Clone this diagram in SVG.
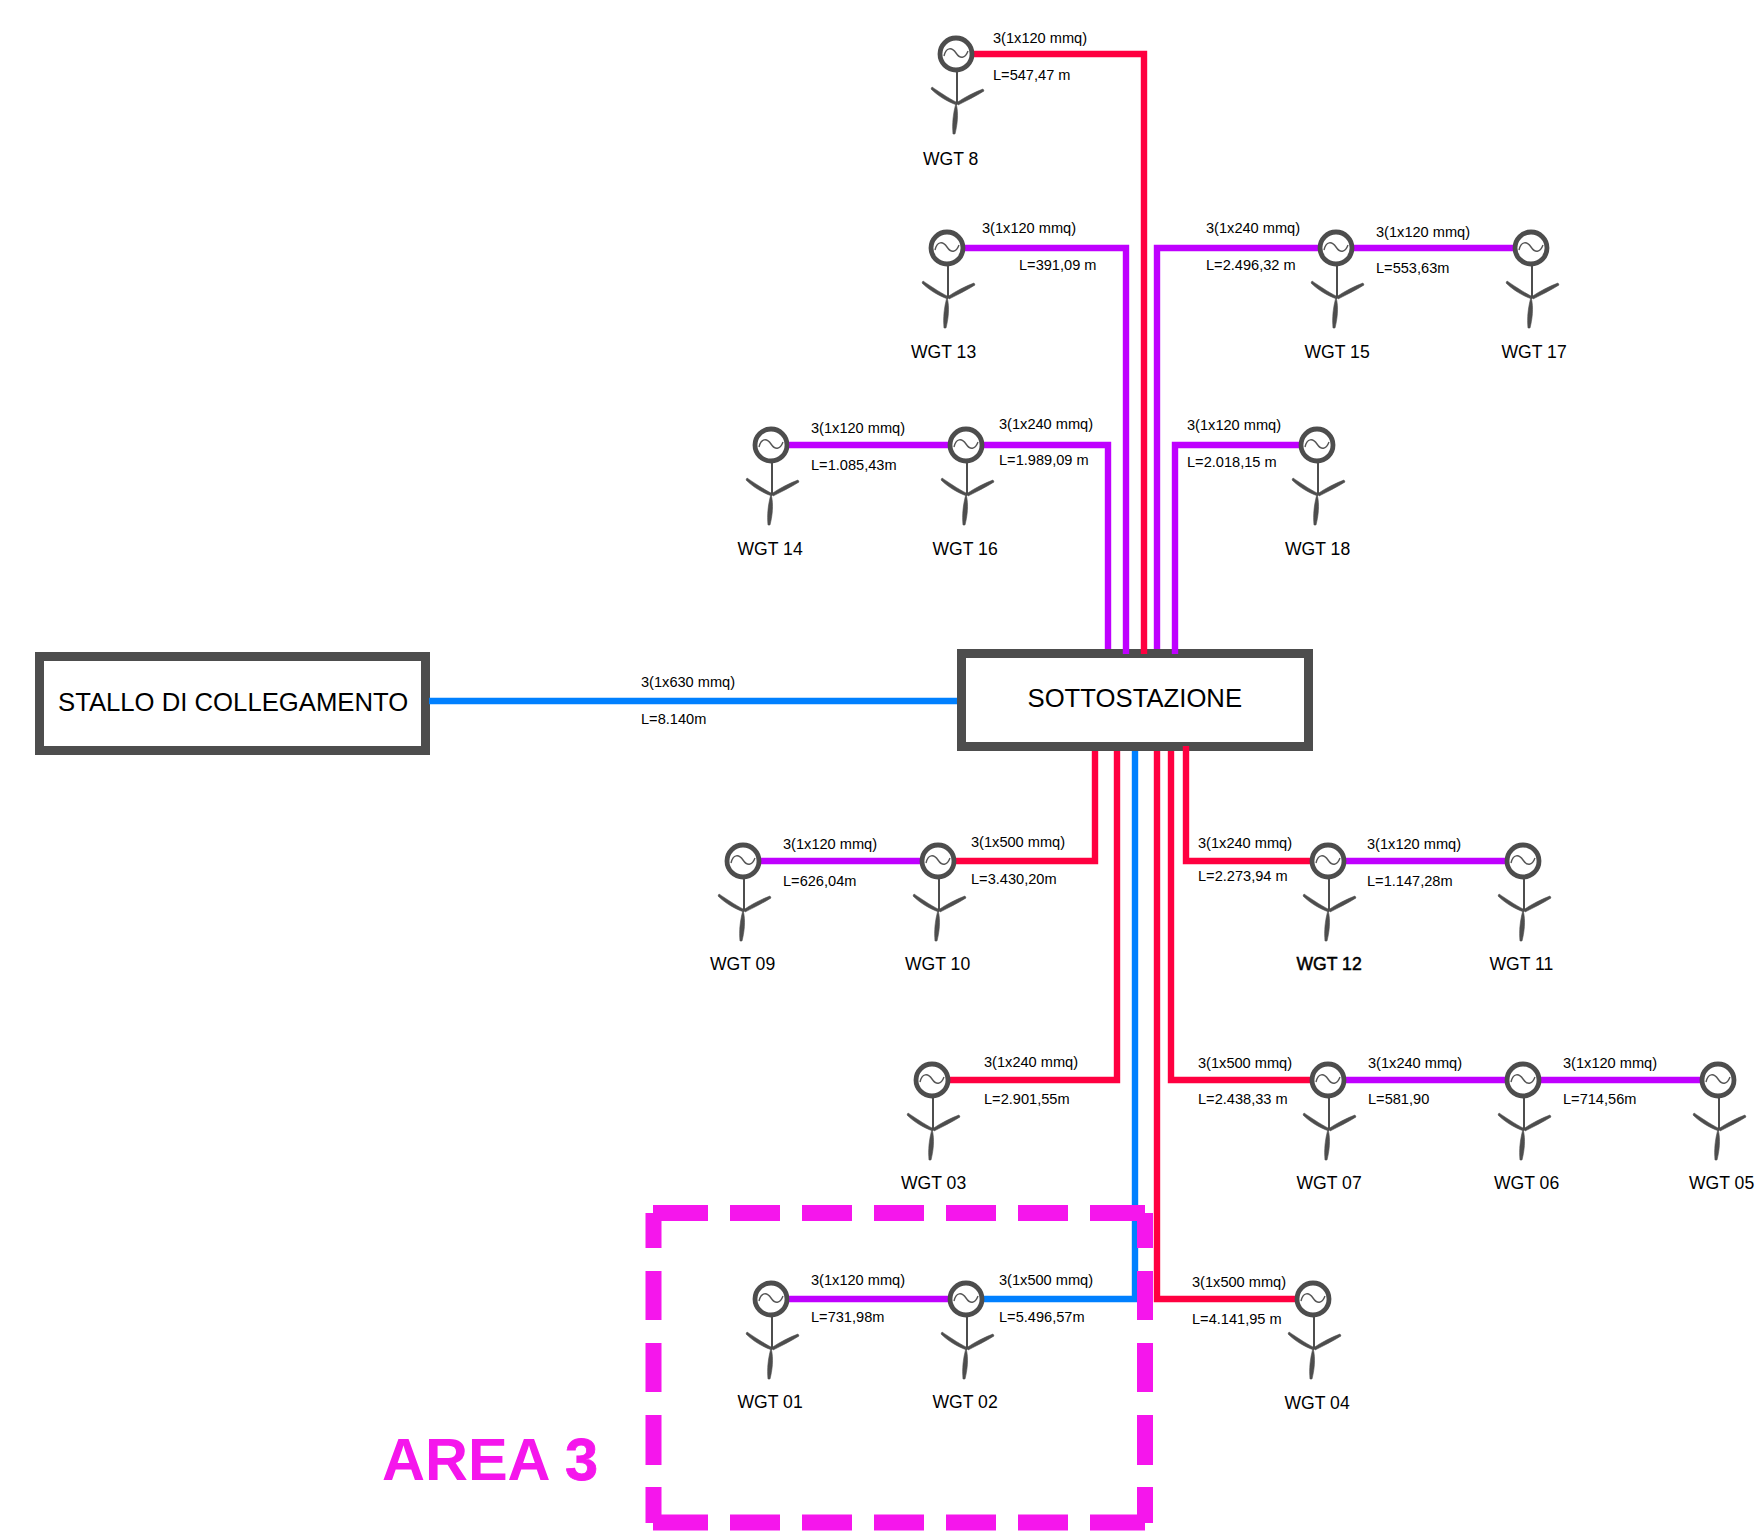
<svg xmlns="http://www.w3.org/2000/svg" xmlns:xlink="http://www.w3.org/1999/xlink" width="1757" height="1535" viewBox="0 0 1757 1535">
<style>
text{font-family:"Liberation Sans",Arial,sans-serif;fill:#000}
.l{font-size:14.6px}
.w{font-size:17.6px}
.b{font-size:25.7px}
.box{fill:#fff;stroke:#4d4d4d;stroke-width:9}
.c{fill:none;stroke-width:6.400;stroke-linejoin:miter}
.r{stroke:#ff0040}.p{stroke:#bf00ff}.u{stroke:#0080ff}
.d{fill:none;stroke:#f516ec;stroke-width:16}
.area{font-size:59.5px;font-weight:bold;fill:#f516ec}
</style>
<defs>
<g id="t">
<path d="M1 18V50" fill="none" stroke="#4d4d4d" stroke-width="2"/>
<path d="M1 48.500C-8 44-18 37-24 33L-25 35C-18 42-8 48 1 51Z M1 48.500C9 43 19 38 27 35L28 37C20 42 10 47 2 51Z M0 49C3 60 1 72-1 80L-3 80C-4 70-3 60 0 49Z" fill="#4d4d4d" stroke="#4d4d4d" stroke-width=".6" stroke-linejoin="round"/>
<circle r="16" fill="#fff" stroke="#4d4d4d" stroke-width="4.800"/>
<path d="M-12 2C-10 -7-4 -7 0 -1S9 5 12 -3" fill="none" stroke="#555" stroke-width="1.400"/>
</g>
</defs>
<g id="box-stallo"><rect class="box" x="39.500" y="656.500" width="386" height="94"/><text class="b" x="58" y="711">STALLO DI COLLEGAMENTO</text></g>
<g id="box-sottostazione"><rect class="box" x="961.500" y="653.500" width="347" height="93"/><text class="b" x="1027.500" y="707">SOTTOSTAZIONE</text></g>
<g id="connectors">
<path class="c r" d="M974 54H1144V654"/>
<path class="c p" d="M965 248H1126V654"/>
<path class="c p" d="M1318 248H1157V649"/>
<path class="c p" d="M1354 248H1513"/>
<path class="c p" d="M789 445H948"/>
<path class="c p" d="M984 445H1108V649"/>
<path class="c p" d="M1299 445H1175V654"/>
<path class="c u" d="M429 701H957"/>
<path class="c p" d="M761 861H920"/>
<path class="c r" d="M956 861H1095V751"/>
<path class="c r" d="M1310 861H1186V746"/>
<path class="c p" d="M1346 861H1505"/>
<path class="c r" d="M950 1080H1117V751"/>
<path class="c r" d="M1310 1080H1171V751"/>
<path class="c p" d="M1346 1080H1505"/>
<path class="c p" d="M1541 1080H1700"/>
<path class="c p" d="M789 1299H948"/>
<path class="c u" d="M984 1299H1135V751"/>
<path class="c r" d="M1295 1299H1157V751"/>
</g>
<g id="area">
<path class="d" d="M653 1213H1145" stroke-dasharray="55 22 50 22 50 22 50 22 50 22 50 22 55"/>
<path class="d" d="M653 1522.500H1145" stroke-dasharray="55 22 50 22 50 22 50 22 50 22 50 22 55"/>
<path class="d" d="M653.500 1213V1523" stroke-dasharray="35 23 49 23 49 23 50 22 36"/>
<path class="d" d="M1145 1213V1523" stroke-dasharray="35 23 49 23 49 23 50 22 36"/>
<text class="area" x="382" y="1480">AREA <tspan stroke="#f516ec" stroke-width=".8">3</tspan></text>
</g>
<g id="labels">
<text class="l" x="993" y="43">3(1x120 mmq)</text><text class="l" x="993" y="80">L=547,47 m</text>
<text class="l" x="982" y="233">3(1x120 mmq)</text><text class="l" x="1019" y="270">L=391,09 m</text>
<text class="l" x="1206" y="233">3(1x240 mmq)</text><text class="l" x="1206" y="270">L=2.496,32 m</text>
<text class="l" x="1376" y="237">3(1x120 mmq)</text><text class="l" x="1376" y="273">L=553,63m</text>
<text class="l" x="811" y="433">3(1x120 mmq)</text><text class="l" x="811" y="470">L=1.085,43m</text>
<text class="l" x="999" y="429">3(1x240 mmq)</text><text class="l" x="999" y="465">L=1.989,09 m</text>
<text class="l" x="1187" y="430">3(1x120 mmq)</text><text class="l" x="1187" y="467">L=2.018,15 m</text>
<text class="l" x="641" y="687">3(1x630 mmq)</text><text class="l" x="641" y="724">L=8.140m</text>
<text class="l" x="783" y="849">3(1x120 mmq)</text><text class="l" x="783" y="886">L=626,04m</text>
<text class="l" x="971" y="847">3(1x500 mmq)</text><text class="l" x="971" y="884">L=3.430,20m</text>
<text class="l" x="1198" y="848">3(1x240 mmq)</text><text class="l" x="1198" y="881">L=2.273,94 m</text>
<text class="l" x="1367" y="849">3(1x120 mmq)</text><text class="l" x="1367" y="886">L=1.147,28m</text>
<text class="l" x="984" y="1067">3(1x240 mmq)</text><text class="l" x="984" y="1104">L=2.901,55m</text>
<text class="l" x="1198" y="1068">3(1x500 mmq)</text><text class="l" x="1198" y="1104">L=2.438,33 m</text>
<text class="l" x="1368" y="1068">3(1x240 mmq)</text><text class="l" x="1368" y="1104">L=581,90</text>
<text class="l" x="1563" y="1068">3(1x120 mmq)</text><text class="l" x="1563" y="1104">L=714,56m</text>
<text class="l" x="811" y="1285">3(1x120 mmq)</text><text class="l" x="811" y="1322">L=731,98m</text>
<text class="l" x="999" y="1285">3(1x500 mmq)</text><text class="l" x="999" y="1322">L=5.496,57m</text>
<text class="l" x="1192" y="1287">3(1x500 mmq)</text><text class="l" x="1192" y="1324">L=4.141,95 m</text>
</g>
<g id="wgt8"><use xlink:href="#t" x="956" y="54"/><text class="w" x="923" y="165">WGT 8</text></g>
<g id="wgt13"><use xlink:href="#t" x="947" y="248"/><text class="w" x="911" y="358">WGT 13</text></g>
<g id="wgt15"><use xlink:href="#t" x="1336" y="248"/><text class="w" x="1304.500" y="358">WGT 15</text></g>
<g id="wgt17"><use xlink:href="#t" x="1531" y="248"/><text class="w" x="1501.500" y="358">WGT 17</text></g>
<g id="wgt14"><use xlink:href="#t" x="771" y="445"/><text class="w" x="737.500" y="555">WGT 14</text></g>
<g id="wgt16"><use xlink:href="#t" x="966" y="445"/><text class="w" x="932.500" y="555">WGT 16</text></g>
<g id="wgt18"><use xlink:href="#t" x="1317" y="445"/><text class="w" x="1285" y="555">WGT 18</text></g>
<g id="wgt09"><use xlink:href="#t" x="743" y="861"/><text class="w" x="710" y="970">WGT 09</text></g>
<g id="wgt10"><use xlink:href="#t" x="938" y="861"/><text class="w" x="905" y="970">WGT 10</text></g>
<g id="wgt12"><use xlink:href="#t" x="1328" y="861"/><text class="w" x="1296.500" y="970" stroke="#000" stroke-width=".5">WGT 12</text></g>
<g id="wgt11"><use xlink:href="#t" x="1523" y="861"/><text class="w" x="1489.500" y="970">WGT 11</text></g>
<g id="wgt03"><use xlink:href="#t" x="932" y="1080"/><text class="w" x="901" y="1189">WGT 03</text></g>
<g id="wgt07"><use xlink:href="#t" x="1328" y="1080"/><text class="w" x="1296.500" y="1189">WGT 07</text></g>
<g id="wgt06"><use xlink:href="#t" x="1523" y="1080"/><text class="w" x="1494" y="1189">WGT 06</text></g>
<g id="wgt05"><use xlink:href="#t" x="1718" y="1080"/><text class="w" x="1689" y="1189">WGT 05</text></g>
<g id="wgt01"><use xlink:href="#t" x="771" y="1299"/><text class="w" x="737.500" y="1408">WGT 01</text></g>
<g id="wgt02"><use xlink:href="#t" x="966" y="1299"/><text class="w" x="932.500" y="1408">WGT 02</text></g>
<g id="wgt04"><use xlink:href="#t" x="1313" y="1299"/><text class="w" x="1284.500" y="1409">WGT 04</text></g>
</svg>
